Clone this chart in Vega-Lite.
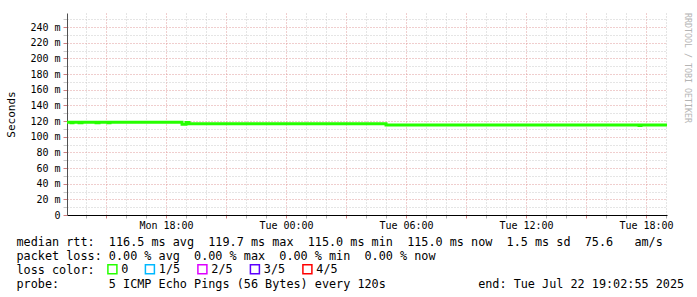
{
  "$schema": "https://vega.github.io/schema/vega-lite/v6.json",
  "width": 600,
  "height": 202,
  "autosize": "none",
  "padding": {"left": 67, "top": 13, "right": 30, "bottom": 82},
  "background": "white",
  "config": {
    "view": {"stroke": null},
    "font": "DejaVu Sans Mono"
  },
  "title": {
    "text": "RRDTOOL / TOBI OETIKER",
    "orient": "right",
    "anchor": "start",
    "fontSize": 8.3,
    "fontWeight": "normal",
    "color": "#b4b4b4",
    "offset": 0
  },
  "data": {
    "values": [
      {"time": "2025-07-21T13:03:00Z", "rtt": 118.6, "loss": "0"},
      {"time": "2025-07-21T13:15:00Z", "rtt": 118.6, "loss": "0"},
      {"time": "2025-07-21T13:15:01Z", "rtt": 117.9, "loss": "0"},
      {"time": "2025-07-21T13:21:00Z", "rtt": 117.9, "loss": "0"},
      {"time": "2025-07-21T13:21:01Z", "rtt": 118.6, "loss": "0"},
      {"time": "2025-07-21T13:39:00Z", "rtt": 118.6, "loss": "0"},
      {"time": "2025-07-21T13:39:01Z", "rtt": 117.9, "loss": "0"},
      {"time": "2025-07-21T13:48:00Z", "rtt": 117.9, "loss": "0"},
      {"time": "2025-07-21T13:48:01Z", "rtt": 118.6, "loss": "0"},
      {"time": "2025-07-21T14:30:00Z", "rtt": 118.6, "loss": "0"},
      {"time": "2025-07-21T14:30:01Z", "rtt": 117.9, "loss": "0"},
      {"time": "2025-07-21T14:39:00Z", "rtt": 117.9, "loss": "0"},
      {"time": "2025-07-21T14:39:01Z", "rtt": 118.6, "loss": "0"},
      {"time": "2025-07-21T15:06:00Z", "rtt": 118.6, "loss": "0"},
      {"time": "2025-07-21T15:06:01Z", "rtt": 117.9, "loss": "0"},
      {"time": "2025-07-21T15:12:00Z", "rtt": 117.9, "loss": "0"},
      {"time": "2025-07-21T15:12:01Z", "rtt": 118.6, "loss": "0"},
      {"time": "2025-07-21T18:48:00Z", "rtt": 118.6, "loss": "0"},
      {"time": "2025-07-21T18:48:01Z", "rtt": 115.8, "loss": "0"},
      {"time": "2025-07-21T19:00:00Z", "rtt": 115.8, "loss": "0"},
      {"time": "2025-07-21T19:00:01Z", "rtt": 118.2, "loss": "0"},
      {"time": "2025-07-21T19:09:00Z", "rtt": 118.2, "loss": "0"},
      {"time": "2025-07-21T19:09:01Z", "rtt": 116.5, "loss": "0"},
      {"time": "2025-07-22T05:00:00Z", "rtt": 116.5, "loss": "0"},
      {"time": "2025-07-22T05:00:01Z", "rtt": 114.8, "loss": "0"},
      {"time": "2025-07-22T17:39:00Z", "rtt": 114.8, "loss": "0"},
      {"time": "2025-07-22T17:39:01Z", "rtt": 114.2, "loss": "0"},
      {"time": "2025-07-22T17:45:00Z", "rtt": 114.2, "loss": "0"},
      {"time": "2025-07-22T17:45:01Z", "rtt": 114.8, "loss": "0"},
      {"time": "2025-07-22T19:03:00Z", "rtt": 114.8, "loss": "0"}
    ]
  },
  "mark": {"type": "line", "strokeWidth": 3},
  "encoding": {
    "x": {
      "field": "time",
      "type": "temporal",
      "scale": {
        "type": "utc",
        "nice": false,
        "domain": [
          {"year": 2025, "month": 7, "date": 21, "hours": 13, "minutes": 2, "seconds": 55, "utc": true},
          {"year": 2025, "month": 7, "date": 22, "hours": 19, "minutes": 2, "seconds": 55, "utc": true}
        ]
      },
      "axis": {
        "tickCount": 30,
        "grid": true,
        "gridColor": {"condition": {"test": "utchours(datum.value) % 3 === 0", "value": "#e09c9c"}, "value": "#cacaca"},
        "gridDash": [1, 2],
        "domainColor": "black",
        "tickSize": 3,
        "tickColor": {"condition": {"test": "utchours(datum.value) % 3 === 0", "value": "#d08080"}, "value": "#b0b0b0"},
        "labelExpr": "utchours(datum.value) % 6 === 0 ? utcFormat(datum.value, '%a %H:%M') : ''",
        "labelFontSize": 10,
        "labelColor": "black",
        "labelPadding": 2,
        "labelOverlap": false,
        "title": [
          "median rtt:\u00a0\u00a0116.5 ms avg\u00a0\u00a0119.7 ms max\u00a0\u00a0115.0 ms min\u00a0\u00a0115.0 ms now\u00a0\u00a01.5 ms sd\u00a0\u00a075.6\u00a0\u00a0\u00a0am/s",
          "packet loss: 0.00 % avg\u00a0\u00a00.00 % max\u00a0\u00a00.00 % min\u00a0\u00a00.00 % now",
          "loss color:",
          "probe:\u00a0\u00a0\u00a0\u00a0\u00a0\u00a0\u00a05 ICMP Echo Pings (56 Bytes) every 120s\u00a0\u00a0\u00a0\u00a0\u00a0\u00a0\u00a0\u00a0\u00a0\u00a0\u00a0\u00a0\u00a0end: Tue Jul 22 19:02:55 2025"
        ],
        "titleFontSize": 11.8,
        "titleFontWeight": "normal",
        "titleColor": "black",
        "titleAlign": "left",
        "titleBaseline": "top",
        "titleX": -51,
        "titleY": 21,
        "titleLineHeight": 14
      }
    },
    "y": {
      "field": "rtt",
      "type": "quantitative",
      "scale": {"domain": [0, 258], "nice": false, "zero": false},
      "axis": {
        "values": [0, 10, 20, 30, 40, 50, 60, 70, 80, 90, 100, 110, 120, 130, 140, 150, 160, 170, 180, 190, 200, 210, 220, 230, 240, 250],
        "grid": true,
        "gridColor": {"condition": {"test": "datum.value % 20 === 0", "value": "#e09c9c"}, "value": "#cacaca"},
        "gridDash": [1, 2],
        "domainColor": "#505050",
        "tickSize": 4,
        "tickColor": {"condition": {"test": "datum.value % 20 === 0", "value": "#d08080"}, "value": "#c8c8c8"},
        "labelExpr": "datum.value % 20 !== 0 ? '' : (datum.value === 0 ? '0' : datum.value + ' m')",
        "labelFontSize": 10,
        "labelColor": "black",
        "labelPadding": 3,
        "labelOverlap": false,
        "title": "Seconds",
        "titleFontSize": 11,
        "titleFontWeight": "normal",
        "titleColor": "black",
        "titleX": -51
      }
    },
    "color": {
      "field": "loss",
      "type": "nominal",
      "scale": {"domain": ["0", "1/5", "2/5", "3/5", "4/5"], "range": ["#26ff00", "#00b8ff", "#dd00ff", "#5e00ff", "#ff0000"]},
      "legend": {
        "orient": "none",
        "legendX": 39.5,
        "legendY": 250,
        "direction": "horizontal",
        "title": null,
        "padding": 0,
        "symbolType": "square",
        "symbolSize": 81,
        "symbolStrokeWidth": 1.5,
        "labelFontSize": 11.8,
        "labelColor": "black",
        "labelOffset": 3,
        "columnPadding": 13.5
      }
    }
  }
}
